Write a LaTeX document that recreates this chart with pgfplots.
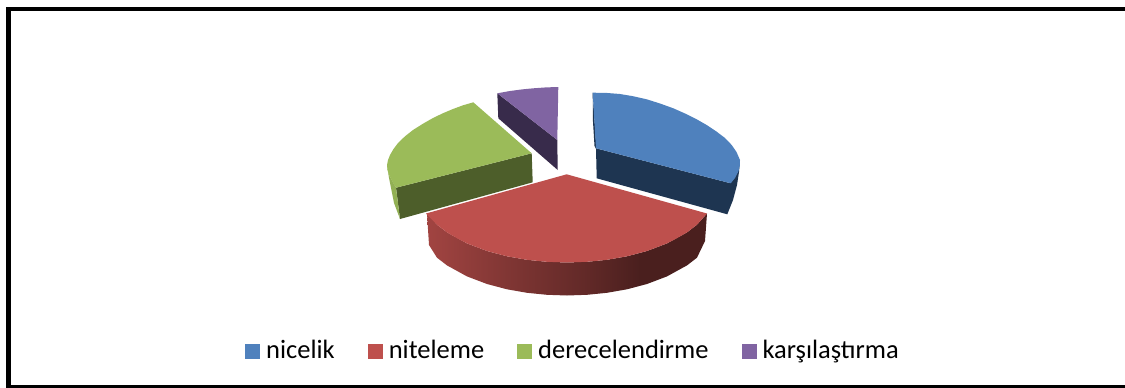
\documentclass[border=0pt]{standalone}
\usepackage{pgfplots}
\pgfplotsset{compat=1.18}
\usepackage{fontspec}
\setmainfont{Carlito}
\definecolor{cblue}{HTML}{4F81BD}
\definecolor{cbluedk}{HTML}{1E3551}
\definecolor{cred}{HTML}{BE504D}
\definecolor{cgreen}{HTML}{9BBB59}
\definecolor{cgreendk}{HTML}{4D5E2A}
\definecolor{cpurple}{HTML}{8064A2}
\definecolor{cpurpledk}{HTML}{382B4B}
\pgfdeclarehorizontalshading{redside}{100bp}{
 color(0bp)=(red!0!black);
 color(25bp)=(cred!85!black);
 color(44bp)=(cred!62!black);
 color(53bp)=(cred!52!black);
 color(63bp)=(cred!39!black);
 color(75bp)=(cred!39!black);
 color(100bp)=(cred!39!black)}
\begin{document}
\begin{tikzpicture}
\begin{axis}[
  at={(0,0)},anchor=south west,
  scale only axis,width=1125pt,height=388pt,
  xmin=0,xmax=1125,ymin=0,ymax=388,y dir=reverse,
  axis line style={draw=none},ticks=none,clip=false,
  legend columns=4,
  legend image code/.code={\path[#1,draw=none] (0pt,-0.5pt) rectangle (15pt,14.5pt);},
  legend style={at={(axis cs:245,350.5)},anchor=west,draw=none,fill=none,inner sep=0pt,
    font=\fontsize{26.5}{30}\selectfont,
    nodes={inner sep=0pt,anchor=base west},
    /tikz/column sep=0pt,
    /tikz/every even column/.append style={column sep=33pt},
    /tikz/every odd column/.append style={column sep=6pt}},
]
% frame
\fill[black] (axis cs:5.5,7) rectangle (axis cs:1125,10.5);
\fill[black] (axis cs:5.5,7) rectangle (axis cs:11,388);
\fill[black] (axis cs:5.5,384.5) rectangle (axis cs:1125,388);
% blue sides
\addplot[forget plot,fill=cbluedk,draw=none] coordinates {(596,148.3)(730.7,183.3)(740,160)(739,172)(737,185)(733,200)(727.3,214.3)(596.7,178.3)} -- cycle;
\addplot[forget plot,fill=cbluedk,draw=none] coordinates {(592.7,92.7)(592.9,120)(594.5,146)(596.5,150)} -- cycle;
% red side
\addplot[forget plot,shading=redside,draw=none] coordinates {
 (427,213.5)(437,224.7)(447,232.4)(467,243.4)(487,251)(507,256.3)(527,259.8)(547,261.8)(567,262.5)(587,261.8)(607,259.8)(627,256.3)(647,251)(667,243.4)(687,232.4)(697,224.7)(707,213.5)
 (705,241)(697,257.7)(687,265.4)(667,276.4)(647,284)(627,289.3)(607,292.8)(587,294.8)(567,295.5)(547,294.8)(527,292.8)(507,289.3)(487,284)(467,276.4)(447,265.4)(437,257.7)(429,245)} -- cycle;
% green sides
\addplot[forget plot,fill=cgreendk,draw=none] coordinates {(396,187.7)(531.7,153.3)(532.7,182.3)(400,219)} -- cycle;
\addplot[forget plot,fill=cgreen!94!black,draw=none] coordinates {(387,165)(389,178)(394,203)(400,219)(396,187.7)(389,175)} -- cycle;
% purple side
\addplot[forget plot,fill=cpurpledk,draw=none] coordinates {(497.3,93.3)(557.3,140)(557.7,170)(498.3,118.3)} -- cycle;
% tops
\addplot[fill=cblue,draw=none] coordinates {(592.7,92.7)(606,92.9)(620,94)(633,96.2)(646.7,99.3)(660,103.5)(673.3,108.3)(685,113.5)(696.7,119.3)(707,125.2)(716.7,131.7)(725,138)(731.7,145)(736.5,152)(740,160)(739.8,166)(738.3,171.7)(735,178)(730.7,183.3)(596,148.3)} -- cycle;
\addlegendentry{nicelik}
\addplot[fill=cred,draw=none] coordinates {(566.7,174.3)(426,213.5)(437,224.7)(447,232.4)(457,238.2)(467,243.4)(487,251)(507,256.3)(527,259.8)(547,261.8)(567,262.5)(587,261.8)(607,259.8)(627,256.3)(647,251)(667,243.4)(677,238.2)(687,232.4)(697,224.7)(707,213.5)} -- cycle;
\addlegendentry{niteleme}
\addplot[fill=cgreen,draw=none] coordinates {(473.3,102.3)(463,105.3)(453,109)(443,113.2)(433,118)(423,123.7)(413,130)(405,136.3)(398,143)(393.5,149)(390,155)(388,160)(387,165)(387.5,170)(389,175)(392,181)(396,187.7)(531.7,153.3)} -- cycle;
\addlegendentry{derecelendirme}
\addplot[fill=cpurple,draw=none] coordinates {(497.3,93.3)(510,91)(522,89.4)(533.3,88.3)(546,87.4)(558.3,87)(557.3,140)} -- cycle;
\addlegendentry{karşılaştırma}
\end{axis}
\end{tikzpicture}
\end{document}
